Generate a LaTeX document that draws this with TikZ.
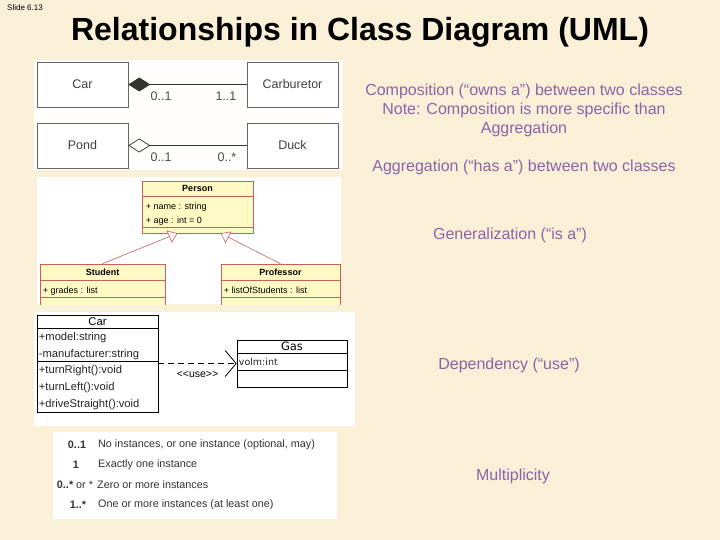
\documentclass[tikz,border=0pt]{standalone}
\usepackage{fontspec}
\setmainfont{Liberation Sans}
\newfontfamily\gasfont{DejaVu Sans}
\usepackage{xcolor}
\usetikzlibrary{arrows.meta, positioning, calc}

\definecolor{slidebg}{HTML}{FAF0D7}
\definecolor{notepurple}{HTML}{8A64A8}
\definecolor{umlred}{HTML}{C86060}
\definecolor{umlyellow}{HTML}{FFFAC4}

\begin{document}
\begin{tikzpicture}[
    x=1pt, y=-1pt,
    panel/.style={fill=white, draw=none},
    note/.style={text=notepurple, font=\fontsize{16}{19}\selectfont, align=center},
    plainbox/.style={rectangle, draw=gray!80!black, fill=white, line width=0.6pt, font=\fontsize{12.5}{14}\selectfont, text=black!75},
    mult/.style={font=\fontsize{12.5}{14}\selectfont, text=black!70, inner sep=1pt},
    genbox/.style={rectangle, draw=umlred, fill=umlyellow, line width=0.6pt},
    gentext/.style={font=\fontsize{9}{10}\selectfont, inner sep=0pt, anchor=west},
    depbox/.style={rectangle, draw=black, fill=white, line width=0.6pt},
    deptext/.style={font=\fontsize{11.2}{13}\selectfont, inner sep=0pt, anchor=west, text=black!85},
    multtext/.style={font=\fontsize{10.8}{12}\selectfont, inner sep=0pt, text=black!80}
]

% slide background
\fill[slidebg] (0,0) rectangle (720,540);
\useasboundingbox (0,0) rectangle (720,540);

\node[font=\fontsize{8}{9}\selectfont, anchor=west, inner sep=0pt] (slideno) at (7,8) {Slide 6.13};
\node[font=\bfseries\fontsize{32}{36}\selectfont] (title) at (360,32) {Relationships in Class Diagram (UML)};

% composition / aggregation
\fill[panel, fill=white!96!slidebg] (34,60) rectangle (343,170);
\node[plainbox, minimum width=91pt, minimum height=45pt] (car) at (82.5,84.5) {Car};
\node[plainbox, minimum width=91pt, minimum height=45pt] (carb) at (292.5,84.5) {Carburetor};
\node[plainbox, minimum width=91pt, minimum height=45pt] (pond) at (82.5,145.5) {Pond};
\node[plainbox, minimum width=91pt, minimum height=45pt] (duck) at (292.5,145.5) {Duck};

\draw[line width=0.7pt, black!80, {Diamond[length=22pt, width=14pt]}-] (car) -- (carb)
    node[mult, pos=0, anchor=north west, xshift=21pt, yshift=-6pt] {0..1}
    node[mult, pos=1, anchor=north east, xshift=-9pt, yshift=-6pt] {1..1};
\draw[line width=0.7pt, black!80, {Diamond[open, fill=white, length=22pt, width=14pt]}-] (pond) -- (duck)
    node[mult, pos=0, anchor=north west, xshift=21pt, yshift=-6pt] {0..1}
    node[mult, pos=1, anchor=north east, xshift=-9pt, yshift=-6pt] {0..*};

% generalization
\fill[panel] (37,177) rectangle (341,304);
\begin{scope}
\clip (37,177) rectangle (341,304);
\node[genbox, minimum width=111pt, minimum height=52pt] (person) at (197.5,207) {};
\draw[umlred, line width=0.6pt] ([yshift=-16pt]person.north west) -- ([yshift=-16pt]person.north east);
\draw[umlred, line width=0.6pt] ([yshift=6pt]person.south west) -- ([yshift=6pt]person.south east);
\node[font=\bfseries\fontsize{9}{10}\selectfont] at ([yshift=-8pt]person.north) {Person};
\node[gentext] at ([xshift=4pt, yshift=-26pt]person.north west) {+ name : string};
\node[gentext] at ([xshift=4pt, yshift=-40pt]person.north west) {+ age : int = 0};

\node[genbox, minimum width=125pt, minimum height=50pt] (student) at (102.5,289) {};
\draw[umlred, line width=0.6pt] ([yshift=-17pt]student.north west) -- ([yshift=-17pt]student.north east);
\draw[umlred, line width=0.6pt] ([yshift=-34pt]student.north west) -- ([yshift=-34pt]student.north east);
\node[font=\bfseries\fontsize{9}{10}\selectfont] at ([yshift=-9pt]student.north) {Student};
\node[gentext] at ([xshift=3pt, yshift=-27pt]student.north west) {+ grades : list};

\node[genbox, minimum width=119pt, minimum height=50pt] (prof) at (280.5,289) {};
\draw[umlred, line width=0.6pt] ([yshift=-17pt]prof.north west) -- ([yshift=-17pt]prof.north east);
\draw[umlred, line width=0.6pt] ([yshift=-34pt]prof.north west) -- ([yshift=-34pt]prof.north east);
\node[font=\bfseries\fontsize{9}{10}\selectfont] at ([yshift=-9pt]prof.north) {Professor};
\node[gentext] at ([xshift=3pt, yshift=-27pt]prof.north west) {+ listOfStudents : list};
\end{scope}
\draw[umlred, line width=0.6pt, -{Triangle[open, fill=white, length=9pt, width=13pt]}] (student.north) -- ([xshift=-20pt]person.south);
\draw[umlred, line width=0.6pt, -{Triangle[open, fill=white, length=9pt, width=13pt]}] (prof.north) -- ([xshift=23pt]person.south);

% dependency
\fill[panel] (34,312) rectangle (355,426);
\node[depbox, minimum width=121pt, minimum height=97pt] (car2) at (97.5,363.5) {};
\draw[line width=0.6pt] ([yshift=-14pt]car2.north west) -- ([yshift=-14pt]car2.north east);
\draw[line width=0.6pt] ([yshift=-47pt]car2.north west) -- ([yshift=-47pt]car2.north east);
\node[font=\fontsize{11.2}{13}\selectfont] at ([yshift=-7pt]car2.north) {Car};
\node[deptext] at ([xshift=2pt, yshift=-23pt]car2.north west) {+model:string};
\node[deptext] at ([xshift=2pt, yshift=-40pt]car2.north west) {-manufacturer:string};
\node[deptext] at ([xshift=2pt, yshift=-56pt]car2.north west) {+turnRight():void};
\node[deptext] at ([xshift=2pt, yshift=-73pt]car2.north west) {+turnLeft():void};
\node[deptext] at ([xshift=2pt, yshift=-90pt]car2.north west) {+driveStraight():void};

\node[depbox, minimum width=110pt, minimum height=47pt] (gas) at (292,363.5) {};
\draw[line width=0.6pt] ([yshift=-14pt]gas.north west) -- ([yshift=-14pt]gas.north east);
\draw[line width=0.6pt] ([yshift=-31pt]gas.north west) -- ([yshift=-31pt]gas.north east);
\node[font=\gasfont\fontsize{11.5}{13}\selectfont] at ([yshift=-7pt]gas.north) {Gas};
\node[deptext, font=\gasfont\fontsize{9.5}{11}\selectfont] at ([xshift=2pt, yshift=-22pt]gas.north west) {volm:int};

\draw[line width=0.8pt, dash pattern=on 6pt off 4pt, -{Straight Barb[length=11pt, width=26pt]}] (car2) -- (gas)
    node[pos=0.5, below, font=\fontsize{10.5}{12}\selectfont, yshift=-4pt] {<{}<use>{}>};

% multiplicity table
\fill[panel] (53,432) rectangle (337,519);
\node[multtext, font=\bfseries\fontsize{10.8}{12}\selectfont] (m1) at (77,445) {0..1};
\node[multtext, font=\bfseries\fontsize{10.8}{12}\selectfont] (m2) at (76,465) {1};
\node[multtext] (m3) at (75,485) {\textbf{0..*} or *};
\node[multtext, font=\bfseries\fontsize{10.8}{12}\selectfont] (m4) at (78,505) {1..*};
\node[multtext, anchor=west] (d1) at (98,445) {No instances, or one instance (optional, may)};
\node[multtext, anchor=west] (d2) at (98,465) {Exactly one instance};
\node[multtext, anchor=west] (d3) at (97,485) {Zero or more instances};
\node[multtext, anchor=west] (d4) at (98,505) {One or more instances (at least one)};

% notes
\node[note] (compnote) at (524,110) {Composition (“owns a”) between two classes\\Note: Composition is more specific than\\Aggregation};
\node[note] (aggnote) at (524,167) {Aggregation (“has a”) between two classes};
\node[note] (gennote) at (510,235) {Generalization (“is a”)};
\node[note] (depnote) at (509,365) {Dependency (“use”)};
\node[note] (multnote) at (513,476) {Multiplicity};

\end{tikzpicture}
\end{document}
